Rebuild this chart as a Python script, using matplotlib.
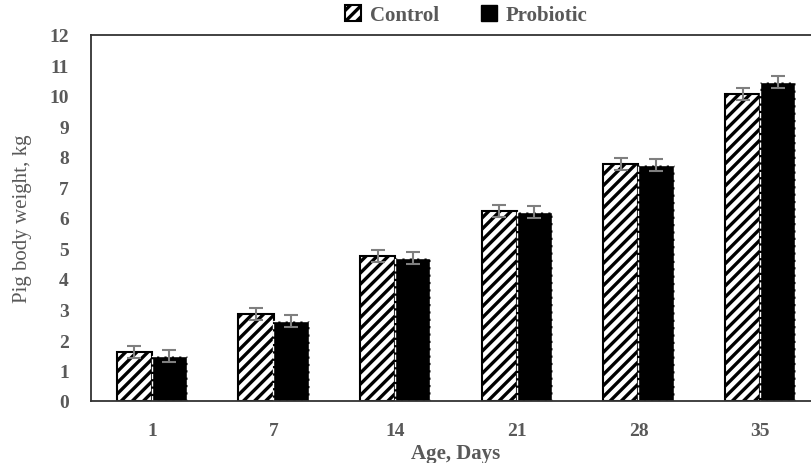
import matplotlib
matplotlib.use("Agg")
import matplotlib.pyplot as plt
import numpy as np
from matplotlib.patches import Patch

days = ["1", "7", "14", "21", "28", "35"]
control = [1.60, 2.85, 4.75, 6.23, 7.77, 10.07]
control_err = [0.20, 0.20, 0.20, 0.20, 0.20, 0.20]
probiotic = [1.47, 2.63, 4.70, 6.20, 7.73, 10.46]
probiotic_err = [0.20, 0.20, 0.20, 0.20, 0.20, 0.20]

plt.rcParams['hatch.linewidth'] = 2.4
fig = plt.figure(figsize=(8.12, 4.64), dpi=100)
ax = fig.add_axes([91/812, 1-402/464, 730/812, 366/464])

x = np.arange(len(days))
w = 0.29
grey = "#595959"
ax.bar(x - w/2, control, w, color="white", edgecolor="black", hatch="///", linewidth=1.5,
       yerr=control_err, error_kw=dict(ecolor="#7f7f7f", capsize=5, elinewidth=1.5, capthick=1.5),
       label="Control")
ax.bar(x + w/2, probiotic, w, color="black", edgecolor="white", linestyle="--", linewidth=1.0,
       yerr=probiotic_err, error_kw=dict(ecolor="#7f7f7f", capsize=5, elinewidth=1.5, capthick=1.5),
       label="Probiotic")

ax.set_xlim(-0.5, len(days) - 0.5)
ax.set_ylim(0, 12)
ax.set_yticks(range(0, 13))
ax.set_xticks(x)
ax.set_xticklabels(days)
for s in ax.spines.values():
    s.set_linewidth(1.3)
    s.set_color("#333333")
ax.tick_params(axis='x', length=0, colors=grey, pad=15)
ax.tick_params(axis='y', length=0, colors=grey, pad=16)
for lab in ax.get_xticklabels() + ax.get_yticklabels():
    lab.set_fontfamily("Liberation Serif")
    lab.set_fontweight("bold")
    lab.set_fontsize(14)
ax.set_ylabel("Pig body weight, kg", fontfamily="Liberation Serif", fontsize=15, color=grey, labelpad=12)
ax.set_xlabel("Age, Days", fontfamily="Liberation Serif", fontsize=15, fontweight="bold", color=grey, labelpad=3)

handles = [Patch(facecolor="white", edgecolor="black", hatch="///", linewidth=1.5),
           Patch(facecolor="black", edgecolor="black")]
fig.legend(handles, ["Control", "Probiotic"], loc="center", bbox_to_anchor=(466/812, 1-16/464),
           ncol=2, frameon=False, handlelength=0.8, handleheight=0.8, handletextpad=0.4, columnspacing=2.0,
           prop=dict(family="Liberation Serif", weight="bold", size=15), labelcolor=grey)

fig.savefig("out.png", dpi=100)
